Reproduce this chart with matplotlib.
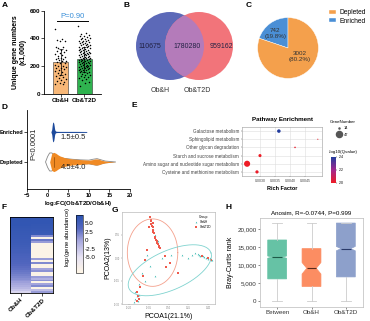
import numpy as np
import matplotlib.pyplot as plt
from matplotlib.patches import Circle
from matplotlib.colors import LinearSegmentedColormap, Normalize
from matplotlib.lines import Line2D
from matplotlib.cm import ScalarMappable
from matplotlib.ticker import FuncFormatter

plt.rcParams['font.family'] = ['Liberation Sans', 'DejaVu Sans']
plt.rcParams['axes.linewidth'] = 0.6

# ---- A: unique gene numbers
groups_a = ['Ob&H', 'Ob&T2D']
mean_a = [232, 249]
sd_a = [95, 90]
pts_h = [470, 395, 390, 385, 380, 340, 335, 330, 320, 315, 310, 300, 295, 290, 280,
         275, 270, 262, 255, 250, 245, 240, 235, 230, 225, 220, 212, 205, 200, 195,
         190, 185, 180, 172, 165, 160, 150, 145, 140, 130, 125, 118, 110, 100, 95,
         90, 80, 75, 70, 260]
pts_t = [490, 440, 430, 425, 420, 415, 410, 405, 400, 398, 395, 390, 385, 382, 380,
         375, 372, 370, 365, 362, 360, 355, 352, 350, 345, 342, 340, 335, 332, 330,
         325, 322, 320, 318, 315, 312, 310, 305, 302, 300, 298, 295, 292, 290, 288,
         285, 282, 280, 278, 275, 272, 270, 268, 265, 262, 260, 258, 255, 252, 250,
         248, 245, 242, 240, 238, 235, 232, 230, 228, 225, 222, 220, 218, 215, 212,
         210, 208, 205, 202, 200, 198, 195, 192, 190, 188, 185, 182, 180, 175, 172,
         170, 165, 162, 160, 155, 150, 145, 140, 135, 130, 125, 120, 115, 110, 100,
         90, 80, 60]
p_text_a = 'P=0.90'

# ---- B: venn
venn_counts = [110675, 1780280, 959162]
venn_names = ['Ob&H', 'Ob&T2D']

# ---- C: pie
pie_labels = ['Enriched', 'Depleted']
pie_counts = [742, 3002]

# ---- D: violin profiles (log2FC, half width)
enr_x = [0.8, 1.0, 1.1, 1.2, 1.3, 1.4, 1.5, 1.6, 1.7, 1.8, 2.0, 2.3, 3.0, 5.0, 7.0, 9.5]
enr_w = [0.0, 0.08, 0.2, 0.3, 0.33, 0.32, 0.28, 0.2, 0.1, 0.05, 0.025, 0.02, 0.018, 0.018, 0.018, 0.015]
dep_x = [0.5, 0.8, 1.0, 1.5, 2.0, 2.5, 3.0, 4.0, 5.0, 6.0, 8.0, 10.0, 11.0, 11.5, 12.0, 12.5, 13.0, 14.0, 15.0, 16.5]
dep_w = [0.0, 0.17, 0.28, 0.32, 0.29, 0.24, 0.2, 0.15, 0.12, 0.1, 0.08, 0.06, 0.08, 0.1, 0.1, 0.09, 0.06, 0.03, 0.015, 0.0]
out_x = [-0.5, 0.0, 0.5, 1.0, 1.5, 2.0, 3.0, 4.0, 6.0, 8.0, 10.0, 11.0, 12.0, 13.0, 14.0, 16.5]
out_w = [0.0, 0.18, 0.3, 0.3, 0.26, 0.2, 0.15, 0.12, 0.09, 0.07, 0.06, 0.09, 0.11, 0.07, 0.03, 0.0]
d_stats = ['1.5±0.5', '4.5±4.0']

# ---- E: pathway enrichment
pathways = ['Galactose metabolism', 'Sphingolipid metabolism', 'Other glycan degradation',
            'Starch and sucrose metabolism', 'Amino sugar and nucleotide sugar metabolism',
            'Cysteine and methionine metabolism']
rich = [0.00363, 0.00493, 0.00417, 0.00300, 0.00257, 0.00290]
gene_num = [30, 14, 17, 27, 47, 28]
qval = [2.4, 2.01, 2.02, 2.0, 2.0, 2.01]

# ---- F: heatmap log2 abundance
heat_h = [6.8, 6.8, 6.7, 6.6, 6.6, 6.5, 6.4, 6.3, 6.2, 6.1, 6.0, 5.9, 5.8, 5.7, 5.6,
          5.4, 5.3, 5.1, 5.0, 4.8, 4.6, 4.4, 4.2, 4.0, 3.8, 3.5, 3.2, 3.0, 2.7, 2.4,
          2.0, 1.6, 1.2, 0.8, 0.3, -0.2, -0.8, -1.5, -2.5, -4.0]
heat_t = [6.8, 6.7, 6.6, 6.6, 6.5, 6.4, 6.3, 6.2, 6.0, 5.8, 1.5, -9, 2.5, 0.5,
          -9, -9, -9, -9, -9, -9, -9, -9,
          0.5, -9, 1.5, -9, -9, 0.0, 1.0, -9, -9, 0.5, -1.0, 1.0, -9, 0.0, 1.5, -9, -2.0, 0.5]

# ---- G: PCoA
g_t2d_x = [-0.04, -0.035, -0.03, -0.03, -0.025, -0.02, -0.02, -0.015, -0.01, -0.005, 0.0, 0.005,
           0.01, 0.015, 0.02, 0.025, 0.03, 0.035, -0.045, -0.02, 0.11, 0.17, 0.07, -0.077, -0.115,
           -0.14, -0.13, -0.12, -0.14, 0.35, 0.4, 0.42, -0.06, 0.08, -0.09]
g_t2d_y = [0.27, 0.25, 0.24, 0.22, 0.21, 0.2, 0.18, 0.17, 0.16, 0.14, 0.13, 0.12,
           0.11, 0.1, 0.09, 0.08, 0.07, 0.065, 0.2, 0.23, -0.03, -0.1, 0.01, -0.013, -0.19,
           -0.22, -0.25, -0.27, -0.28, 0.01, 0.0, -0.01, 0.05, -0.06, -0.12]
g_h_x = [-0.02, 0.0, 0.02, 0.03, -0.03, 0.32, 0.33, 0.34, 0.35, 0.36, 0.37, 0.38, 0.39, 0.4,
         0.41, 0.42, 0.43, 0.3, 0.28, -0.06, -0.04, 0.05, 0.12, 0.2, 0.25, -0.1, -0.08, -0.12,
         0.0, -0.15, -0.14, -0.13, -0.15, -0.12, -0.16]
g_h_y = [0.19, 0.15, 0.11, 0.08, 0.23, 0.025, 0.02, 0.015, 0.02, 0.01, 0.005, 0.0, 0.005, -0.005,
         0.0, -0.01, -0.015, 0.03, 0.02, 0.02, -0.05, 0.0, 0.02, 0.02, 0.0, -0.1, -0.15, -0.17,
         -0.12, -0.22, -0.25, -0.28, -0.27, -0.24, -0.29]
# ellipse: centre x, centre y, semi-major, semi-minor, angle (deg)
ell_t2d = [-0.02, 0.035, 0.19, 0.22, 0]
ell_h = [0.11, -0.08, 0.33, 0.13, 20]

# ---- H: anosim boxes
h_groups = ['Between', 'Ob&H', 'Ob&T2D']
h_med = [12150, 9050, 14500]
h_q1 = [6100, 4000, 6650]
h_q3 = [16900, 14500, 21600]
h_lo = [0, 0, 0]
h_hi = [21600, 21600, 21600]
h_ci = [300, 1600, 600]

W, H = 370, 321
fig = plt.figure(figsize=(W / 100, H / 100), dpi=100)


def ax_px(x0, y0, x1, y1):
    return fig.add_axes([x0 / W, 1 - y1 / H, (x1 - x0) / W, (y1 - y0) / H])


def letter(x, y, s):
    fig.text(x / W, 1 - y / H, s, fontsize=6, fontweight='bold', va='top', ha='left')


# ================= A
letter(2, 2, 'A')
ax = ax_px(44, 10.7, 101, 94)
xa = np.arange(len(groups_a))
ax.bar(xa, mean_a, width=0.62, color=['#f8b878', '#2fb34f'], edgecolor='#333333', linewidth=0.4, zorder=1)
for i, pts in enumerate([pts_h, pts_t]):
    jit = (np.arange(len(pts)) * 0.618034 % 1 - 0.5) * 0.5
    ax.scatter(xa[i] + jit, pts, s=1.2, color='black', linewidths=0, zorder=3)
    ax.errorbar(xa[i], mean_a[i], yerr=sd_a[i], color='black', capsize=1.5, lw=0.5, capthick=0.5, zorder=2)
ax.plot([-0.15, 1.15], [524, 524], color='black', lw=0.7)
ax.text(0.5, 535, p_text_a, color='#3a8fd8', fontsize=5.5, ha='center', va='bottom')
ax.set_xlim(-0.69, 1.69)
ax.set_ylim(0, 600)
ax.set_yticks([0, 200, 400, 600])
ax.set_xticks(xa)
ax.set_xticklabels(groups_a, fontsize=4.5, fontweight='bold')
ax.tick_params(axis='y', labelsize=4.5, length=2, width=0.5, pad=1)
ax.tick_params(axis='x', length=2, width=0.5, pad=1)
for t in ax.get_yticklabels():
    t.set_fontweight('bold')
ax.spines['top'].set_visible(False)
ax.spines['right'].set_visible(False)
ax.set_ylabel('Unique gene numbers\n(x1,000)', fontsize=5, fontweight='bold', labelpad=2)

# ================= B
letter(123, 2, 'B')
ax = ax_px(125, 0, 245, 100)
ax.set_xlim(125, 245)
ax.set_ylim(100, 0)
ax.set_aspect('equal')
ax.axis('off')
c1 = Circle((170, 46), 34, color='#5c69b8', lw=0)
c2 = Circle((199, 46), 34, color='#f2747a', lw=0)
c3 = Circle((170, 46), 34, color='#b47bba', lw=0)
ax.add_patch(c1)
ax.add_patch(c2)
ax.add_patch(c3)
c3.set_clip_path(c2)
for xx, n in zip([150, 187, 221], venn_counts):
    ax.text(xx, 46, str(n), fontsize=5, ha='center', va='center', color='#222244')
ax.text(160, 90, venn_names[0], fontsize=5, ha='center', va='center', color='#333333')
ax.text(197, 90, venn_names[1], fontsize=5, ha='center', va='center', color='#333333')

# ================= C
letter(246, 2, 'C')
ax = ax_px(250, 10, 326, 86)
pie_cols = ['#4a8fd6', '#f4a04c']
wedges, _ = ax.pie(pie_counts, colors=pie_cols, startangle=90, counterclock=True,
                   wedgeprops=dict(linewidth=0.3, edgecolor='white'))
tot = sum(pie_counts)
ax.text(-0.42, 0.48, f'{pie_counts[0]}\n({pie_counts[0] / tot * 100:.1f}%)', fontsize=4.5,
        ha='center', va='center', color='#333333')
ax.text(0.38, -0.28, f'{pie_counts[1]}\n({pie_counts[1] / tot * 100:.1f}%)', fontsize=4.5,
        ha='center', va='center', color='#333333')
ax.set_aspect('equal')
fig.legend([wedges[1], wedges[0]], [pie_labels[1], pie_labels[0]], loc='upper left',
           bbox_to_anchor=(326 / W, 1 - 6 / H), fontsize=4.8, frameon=False,
           handlelength=1.0, handleheight=0.5, labelspacing=0.2, handletextpad=0.5, borderpad=0)

# ================= D
letter(2, 104, 'D')
ax = ax_px(27, 110, 130, 189)
ax.fill_between(out_x, [-w for w in out_w], out_w, facecolor='none', edgecolor='#888888', lw=0.6, zorder=2)
ax.fill_between(dep_x, [-w for w in dep_w], dep_w, color='#f08a24', lw=0, zorder=3)
ax.fill_between(enr_x, [1 - w for w in enr_w], [1 + w for w in enr_w], color='#1d4a9c', lw=0, zorder=3)
ax.plot([1.5, 1.5], [-0.18, 0.18], color='#7a3c00', lw=0.4, zorder=4)
ax.text(6.3, 0.83, d_stats[0], fontsize=5.5, ha='center', va='center', color='#222222')
ax.text(6.3, -0.17, d_stats[1], fontsize=5.5, ha='center', va='center', color='#222222')
ax.text(-3.3, 0.6, 'P<0.0001', fontsize=5.5, rotation=90, ha='center', va='center', color='#222222')
ax.set_xlim(-5, 20)
ax.set_ylim(-0.9, 1.73)
ax.set_xticks([-5, 0, 5, 10, 15, 20])
ax.set_yticks([0, 1])
ax.set_yticklabels(['Depleted', 'Enriched'], fontsize=4, fontweight='bold')
ax.tick_params(axis='x', labelsize=4, length=2, width=0.5, pad=1)
ax.tick_params(axis='y', length=2, width=0.5, pad=1)
for t in ax.get_xticklabels():
    t.set_fontweight('bold')
ax.spines['top'].set_visible(False)
ax.spines['right'].set_visible(False)
ax.set_xlabel(r'log$_2$FC(Ob&T2D/Ob&H)', fontsize=4.3, fontweight='bold', labelpad=0.5)

# ================= E
letter(131, 102, 'E')
ax = ax_px(242, 127, 322, 176)
cm_e = LinearSegmentedColormap.from_list('rb', ['#ee1c25', '#a2288e', '#223c9e'])
yy = np.arange(len(pathways))[::-1]
sizes = [(0.8 + (g - 14) / 33 * 3.6) ** 2 for g in gene_num]
ax.scatter(rich, yy, s=sizes, c=qval, cmap=cm_e, vmin=2.0, vmax=2.4, zorder=3, linewidths=0)
ax.set_xlim(0.0024, 0.00507)
ax.set_ylim(-0.5, 5.5)
ax.set_yticks(yy)
ax.set_yticklabels(pathways, fontsize=3.3)
ax.set_xticks([0.0030, 0.0035, 0.0040, 0.0045])
ax.set_xticklabels(['0.0030', '0.0035', '0.0040', '0.0045'], fontsize=2.5)
ax.tick_params(length=1, width=0.3, pad=1, colors='#444444')
ax.grid(True, color='#dddddd', lw=0.4)
ax.set_axisbelow(True)
for s in ax.spines.values():
    s.set_color('#999999')
    s.set_linewidth(0.4)
ax.set_xlabel('Rich Factor', fontsize=4, fontweight='bold', labelpad=2)
ax.set_title('Pathway Enrichment', fontsize=4.5, fontweight='bold', pad=4)
hs = [Line2D([], [], ls='', marker='o', color='#555555', markersize=0.8 + (g - 14) / 33 * 3.6)
      for g in [14, 47]]
fig.legend(hs, ['14', '47'], title='GeneNumber', loc='upper left', bbox_to_anchor=(328 / W, 1 - 118 / H),
           fontsize=2.8, title_fontsize=3.2, frameon=False, handlelength=1.2, labelspacing=0.6,
           handletextpad=0.6, borderpad=0)
fig.text(329 / W, 1 - 152 / H, '-log10(Qvalue)', fontsize=3.2, va='center')
cax = ax_px(331, 157, 336, 183)
cb = fig.colorbar(ScalarMappable(norm=Normalize(2.0, 2.4), cmap=cm_e), cax=cax)
cb.set_ticks([2.0, 2.2, 2.4])
cb.ax.tick_params(labelsize=2.5, length=1, width=0.3, pad=1)
cb.outline.set_visible(False)

# ================= F
letter(2, 204, 'F')
ax = ax_px(10, 217, 53, 293)
cm_f = LinearSegmentedColormap.from_list('hm', [(0.0, '#fff6e6'), (0.275, '#e6e2f3'), (0.567, '#a4a5dd'),
                                                 (0.77, '#5568c0'), (1.0, '#2b53b0')])
heat = np.column_stack([heat_h, heat_t])
im = ax.imshow(heat, aspect='auto', cmap=cm_f, vmin=-9.7, vmax=7.4, interpolation='nearest')
ax.set_xticks([0, 1])
ax.set_xticklabels(['Ob&H', 'Ob&T2D'], rotation=45, ha='right', fontsize=4.5, fontweight='bold',
                   rotation_mode='anchor')
ax.set_yticks([])
ax.tick_params(axis='x', length=2, width=0.5, pad=1)
for s in ax.spines.values():
    s.set_linewidth(0.6)
cax = ax_px(76, 215, 83, 273)
cb = fig.colorbar(im, cax=cax)
cb.set_ticks([5.0, 2.5, 0, -2.5, -5.0])
cb.set_ticklabels(['5.0', '2.5', '0', '-2.5', '-5.0'])
cb.ax.tick_params(labelsize=4.5, length=0, pad=1.5)
cb.outline.set_linewidth(0.4)
fig.text(68 / W, 1 - 237 / H, r'log$_2$(gene abundance)', fontsize=4.2, rotation=90, ha='center', va='center')

# ================= G
letter(112, 207, 'G')
ax = ax_px(122, 212, 215, 304)
t = np.linspace(0, 2 * np.pi, 200)
for e, col in [(ell_t2d, '#f4a08c'), (ell_h, '#7fd3cf')]:
    cx, cy, a, b, ang = e
    th = np.deg2rad(ang)
    ex = cx + a * np.cos(t) * np.cos(th) - b * np.sin(t) * np.sin(th)
    ey = cy + a * np.cos(t) * np.sin(th) + b * np.sin(t) * np.cos(th)
    ax.plot(ex, ey, color=col, lw=0.6)
ax.scatter(g_h_x, g_h_y, s=1.5, marker='^', color='#35b8b0', linewidths=0, label='Ob&H')
ax.scatter(g_t2d_x, g_t2d_y, s=1.5, marker='s', color='#ef5a4c', linewidths=0, label='Ob&T2D')
ax.set_xlim(-0.25, 0.45)
ax.set_ylim(-0.3, 0.3)
ax.set_xticks([-0.2, -0.05, 0.1, 0.25, 0.4])
ax.set_xticklabels(['-0.20', '-0.05', '0.10', '0.25', '0.40'], fontsize=1.8)
ax.set_yticks([-0.3, -0.15, 0.0, 0.15])
ax.set_yticklabels(['-0.30', '-0.15', '0.00', '0.15'], fontsize=1.8)
ax.tick_params(length=1, width=0.3, pad=0.5, colors='#777777')
for s in ax.spines.values():
    s.set_color('#aaaaaa')
    s.set_linewidth(0.4)
ax.legend(title='Group', loc='upper right', fontsize=2.2, title_fontsize=2.4, frameon=False,
          handlelength=0.8, markerscale=1.0, labelspacing=0.3, borderpad=0.6)
ax.set_xlabel('PCOA1(21.1%)', fontsize=5, labelpad=2)
ax.set_ylabel('PCOA2(13%)', fontsize=5, labelpad=2)

# ================= H
letter(226, 204, 'H')
ax = ax_px(260, 218, 363, 307)
stats = []
for i, g in enumerate(h_groups):
    stats.append(dict(label=g, med=h_med[i], q1=h_q1[i], q3=h_q3[i], whislo=h_lo[i], whishi=h_hi[i],
                      cilo=h_med[i] - h_ci[i], cihi=h_med[i] + h_ci[i], fliers=[]))
bp = ax.bxp(stats, positions=[0.5, 1.5, 2.5], widths=0.55, shownotches=True, patch_artist=True,
            showfliers=False)
for patch, col in zip(bp['boxes'], ['#66c2a5', '#fc8d62', '#8da0cb']):
    patch.set_facecolor(col)
    patch.set_edgecolor(col)
    patch.set_linewidth(0.5)
for ln in bp['whiskers'] + bp['caps']:
    ln.set_color('#cccccc')
    ln.set_linewidth(0.6)
for ln, col in zip(bp['medians'], ['#1e5a48', '#5a2a1a', '#2a3a6a']):
    ln.set_color(col)
    ln.set_linewidth(0.8)
ax.set_xlim(0, 3)
ax.set_ylim(-1700, 23000)
ax.set_yticks([0, 5000, 10000, 15000, 20000])
ax.yaxis.set_major_formatter(FuncFormatter(lambda v, p: f'{int(v):,}'))
ax.tick_params(labelsize=4.5, length=1.5, width=0.4, pad=1, colors='#333333')
for s in ax.spines.values():
    s.set_color('#bbbbbb')
    s.set_linewidth(0.5)
ax.set_title('Anosim, R=-0.0744, P=0.999', fontsize=4.5, pad=3)
ax.set_ylabel('Bray-Curtis rank', fontsize=5, labelpad=2)

fig.savefig('out.png', dpi=100)
